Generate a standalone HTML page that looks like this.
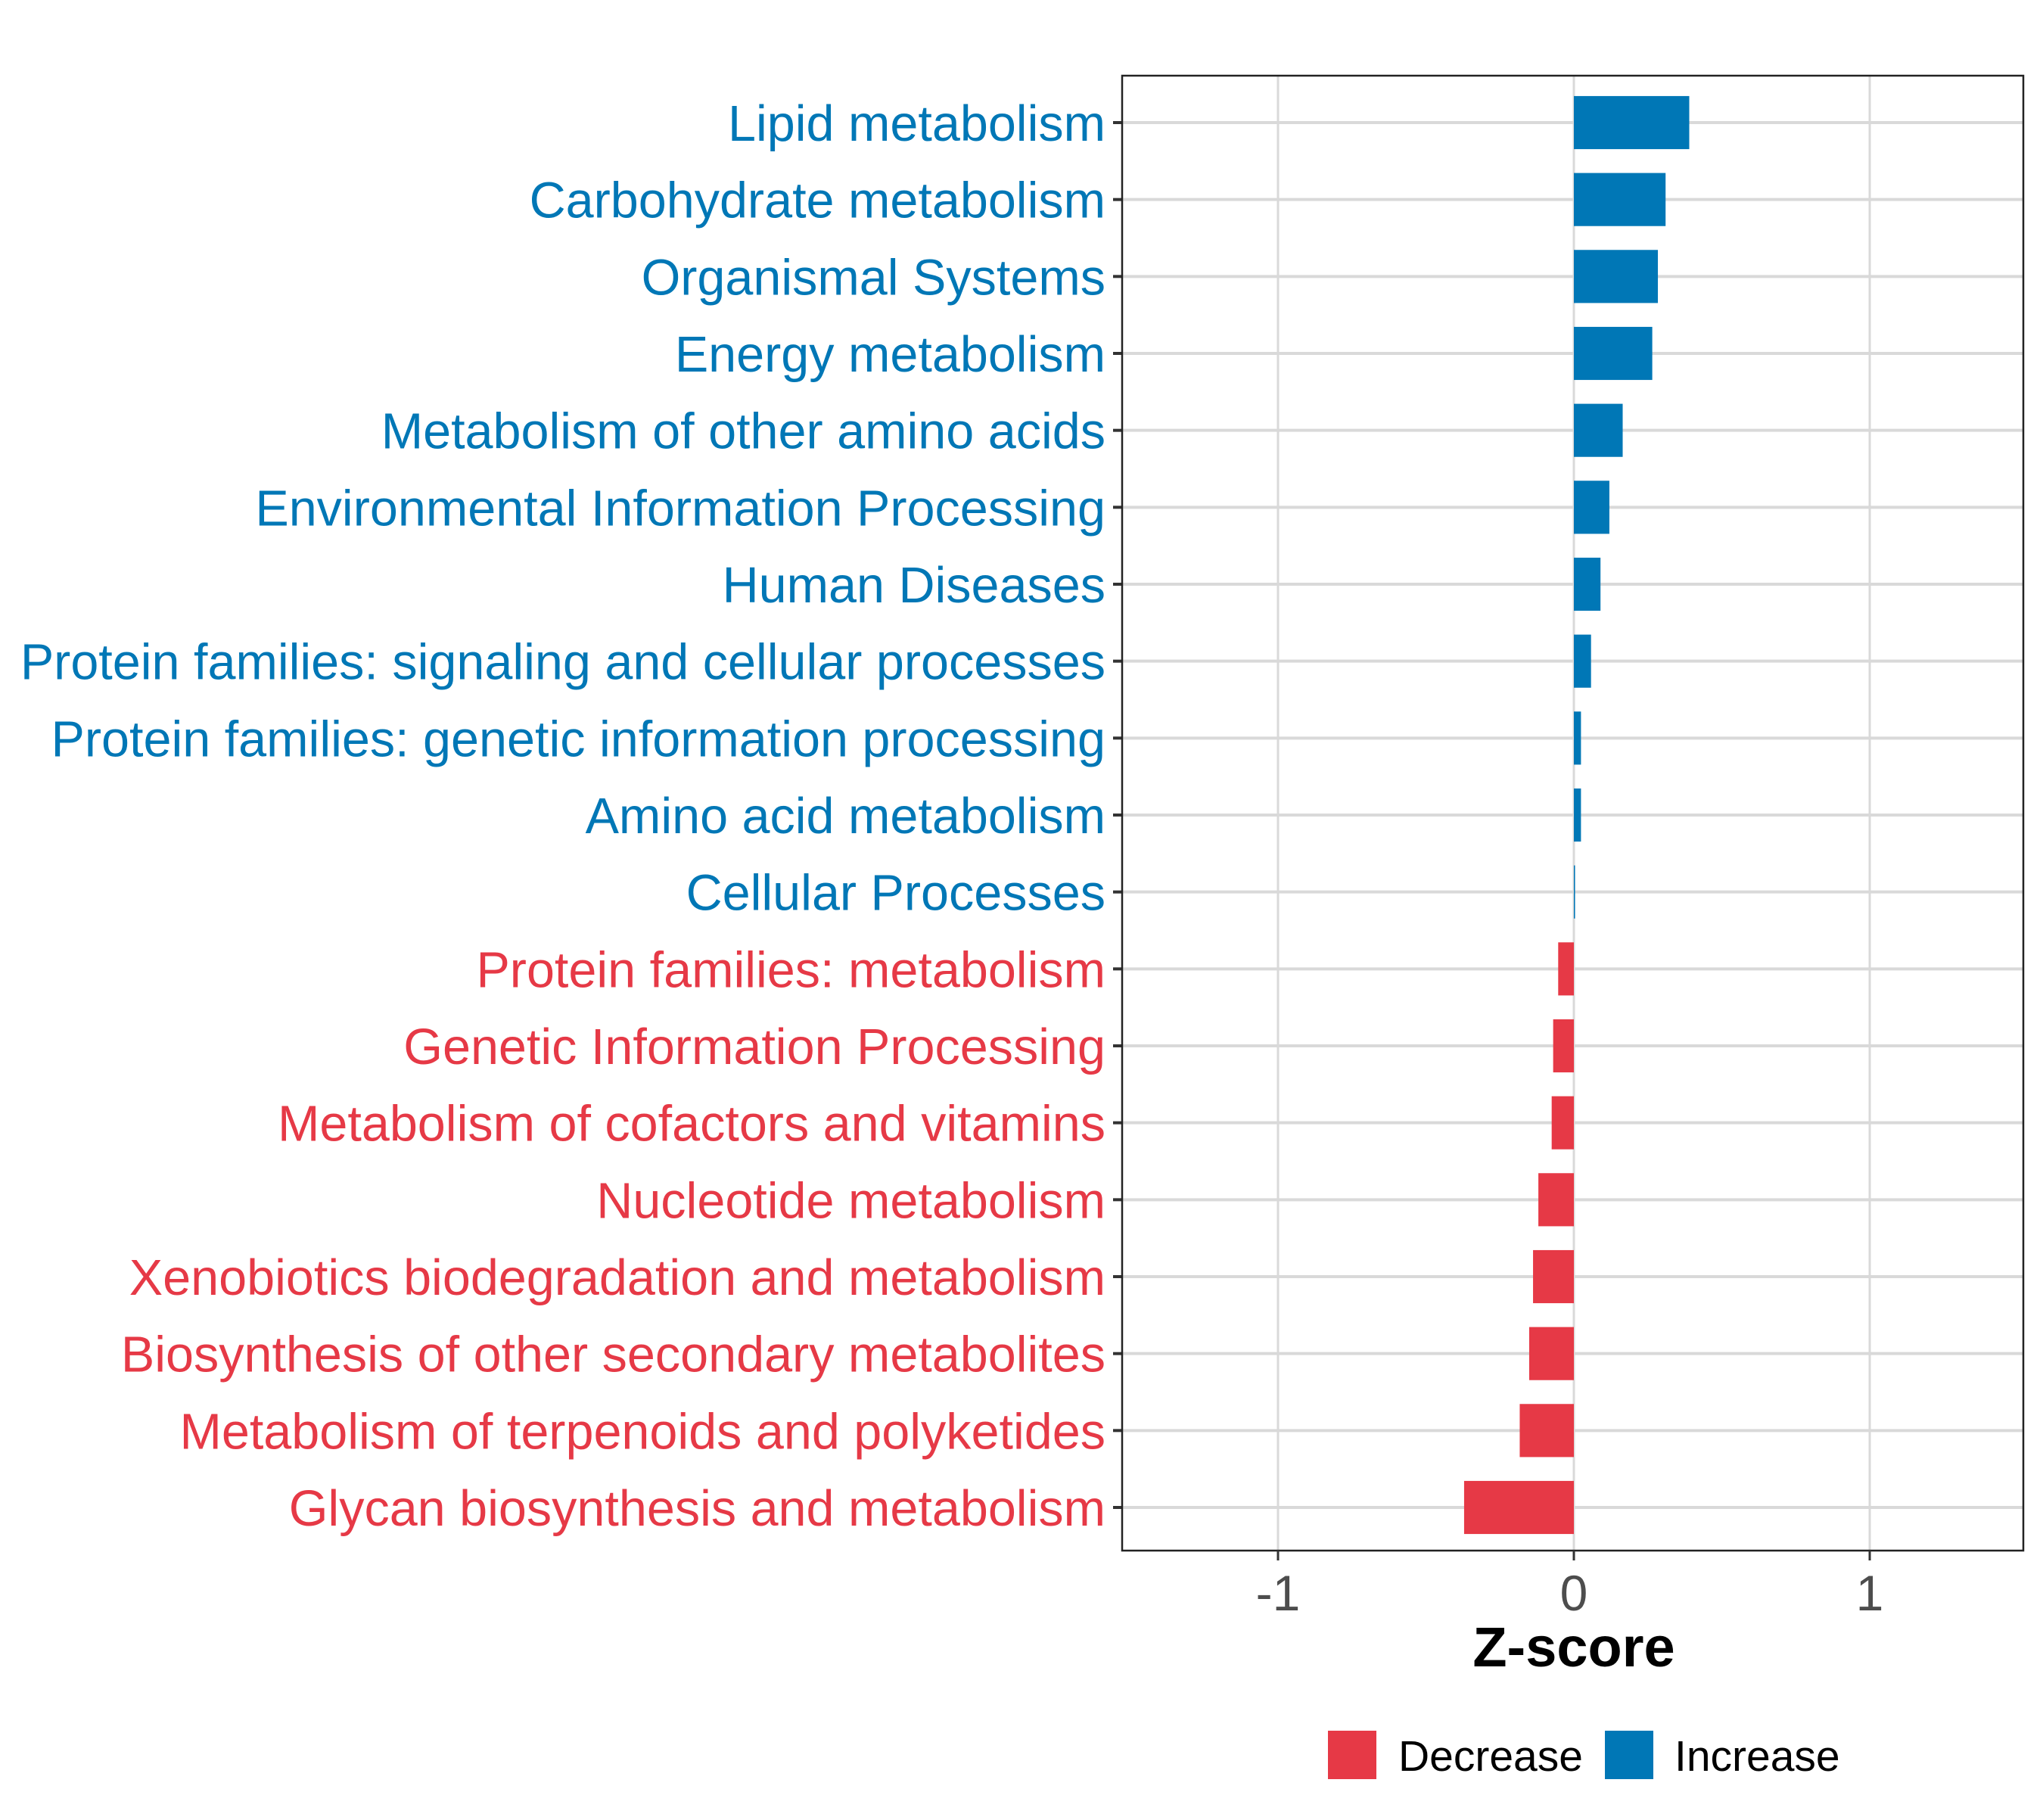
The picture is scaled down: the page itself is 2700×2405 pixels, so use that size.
<!DOCTYPE html>
<html><head><meta charset="utf-8"><style>
html,body{margin:0;padding:0;background:#fff;}
svg text{font-family:"Liberation Sans",Arial,sans-serif;}
</style></head><body>
<svg id="chart" width="2700" height="2400" viewBox="0 0 2700 2400" xmlns="http://www.w3.org/2000/svg">
<rect x="0" y="0" width="2700" height="2400" fill="#fff"/>
<g id="grid"></g>
<g id="bars"></g>
<g id="labels"></g>
<rect x="1483" y="100" width="1191" height="1949" fill="none" stroke="#222" stroke-width="2.5"/>
<g id="xaxis"></g>
<text x="2080" y="2202" font-size="74" font-weight="bold" text-anchor="middle" fill="#000">Z-score</text>
<g>
<rect x="1755" y="2287" width="64" height="64" fill="#E63946"/>
<text x="1848" y="2340" font-size="57" fill="#000">Decrease</text>
<rect x="2121" y="2287" width="64" height="64" fill="#0077B6"/>
<text x="2213" y="2340" font-size="57" fill="#000">Increase</text>
</g>
</svg>
<script>
const categories=["Lipid metabolism","Carbohydrate metabolism","Organismal Systems","Energy metabolism","Metabolism of other amino acids","Environmental Information Processing","Human Diseases","Protein families: signaling and cellular processes","Protein families: genetic information processing","Amino acid metabolism","Cellular Processes","Protein families: metabolism","Genetic Information Processing","Metabolism of cofactors and vitamins","Nucleotide metabolism","Xenobiotics biodegradation and metabolism","Biosynthesis of other secondary metabolites","Metabolism of terpenoids and polyketides","Glycan biosynthesis and metabolism"];
const zscores=[0.39,0.31,0.284,0.265,0.165,0.12,0.09,0.058,0.024,0.024,0.004,-0.053,-0.07,-0.075,-0.12,-0.138,-0.151,-0.183,-0.371];
const xTicks=[-1,0,1];
const xTickLabels=["-1","0","1"];
const NS="http://www.w3.org/2000/svg";
const px0=1483,px1=2674,zeroPx=2080,unit=391;
function xs(v){return zeroPx+v*unit;}
const rowTop=162,rowStep=(1992-162)/18;
function ys(i){return rowTop+i*rowStep;}
const barH=rowStep*0.69;
const BLUE="#0077B6",RED="#E63946";
function mk(tag,attrs,parent){const e=document.createElementNS(NS,tag);for(const k in attrs)e.setAttribute(k,attrs[k]);parent.appendChild(e);return e;}
const grid=document.getElementById('grid'),bars=document.getElementById('bars'),labels=document.getElementById('labels'),xaxis=document.getElementById('xaxis');
xTicks.forEach((t,i)=>{
  const l=mk('line',{x1:xs(t),x2:xs(t),y1:100,y2:2049,stroke:'#d9d9d9','stroke-width':3},grid);
  
  
  const tk=mk('line',{x1:xs(t),x2:xs(t),y1:2049,y2:2062,stroke:'#333','stroke-width':3},xaxis);
  
  
  const tx=mk('text',{x:xs(t),y:2128,'font-size':66,'text-anchor':'middle',fill:'#4d4d4d'},xaxis);
  tx.textContent=xTickLabels[i];
  
  
});
categories.forEach((c,i)=>{
  const y=ys(i),v=zscores[i],col=v>=0?BLUE:RED;
  const g=mk('line',{x1:px0,x2:px1,y1:y,y2:y,stroke:'#d9d9d9','stroke-width':4},grid);
  
  
  const x0=xs(Math.min(0,v)),x1=xs(Math.max(0,v));
  const r=mk('rect',{x:x0,y:y-barH/2,width:Math.max(1,x1-x0),height:barH,fill:col},bars);
  
  
  const tk=mk('line',{x1:1471,x2:1483,y1:y,y2:y,stroke:'#333','stroke-width':4},labels);
  
  
  const t=mk('text',{x:1461,y:y+24,'font-size':66.5,'text-anchor':'end',fill:col},labels);
  t.textContent=c;
  
  
});
</script>
</body></html>
